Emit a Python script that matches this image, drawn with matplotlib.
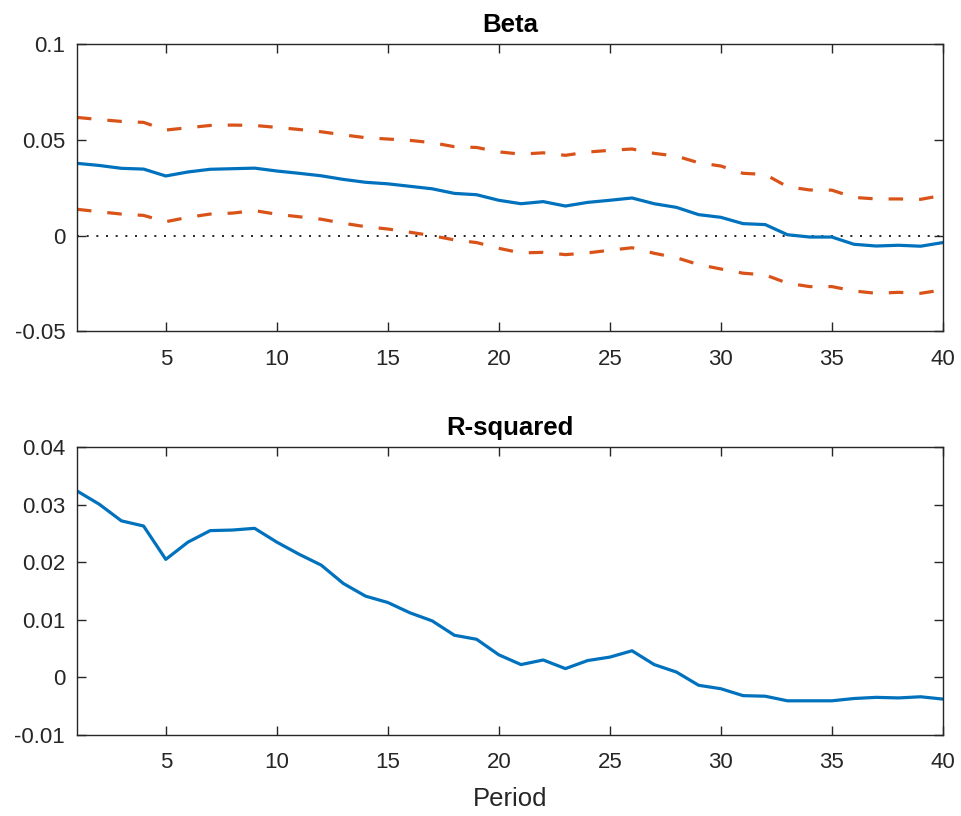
import numpy as np
import matplotlib
matplotlib.use("Agg")
import matplotlib.pyplot as plt
from matplotlib.ticker import FixedLocator, FuncFormatter

# Horizon (periods) and estimates
period = list(range(1, 41))

beta = [0.0378, 0.0367, 0.0352, 0.0348, 0.0312, 0.0333, 0.0347, 0.0350, 0.0353, 0.0338,
        0.0326, 0.0313, 0.0294, 0.0279, 0.0271, 0.0258, 0.0245, 0.0221, 0.0214, 0.0185,
        0.0167, 0.0178, 0.0155, 0.0174, 0.0185, 0.0197, 0.0167, 0.0148, 0.0110, 0.0096,
        0.0063, 0.0058, 0.0005, -0.0007, -0.0007, -0.0045, -0.0054, -0.0050, -0.0055, -0.0036]

beta_upper = [0.0618, 0.0607, 0.0597, 0.0592, 0.0552, 0.0564, 0.0576, 0.0578, 0.0576, 0.0566,
              0.0555, 0.0543, 0.0527, 0.0512, 0.0505, 0.0498, 0.0486, 0.0465, 0.0461, 0.0438,
              0.0426, 0.0433, 0.0420, 0.0437, 0.0446, 0.0453, 0.0430, 0.0416, 0.0381, 0.0364,
              0.0326, 0.0320, 0.0256, 0.0239, 0.0238, 0.0200, 0.0192, 0.0192, 0.0190, 0.0211]

beta_lower = [0.0138, 0.0125, 0.0113, 0.0106, 0.0073, 0.0096, 0.0113, 0.0118, 0.0131, 0.0112,
              0.0099, 0.0086, 0.0065, 0.0047, 0.0035, 0.0018, 0.0000, -0.0022, -0.0036, -0.0066,
              -0.0090, -0.0087, -0.0099, -0.0090, -0.0076, -0.0063, -0.0092, -0.0115, -0.0151, -0.0174,
              -0.0196, -0.0205, -0.0248, -0.0266, -0.0266, -0.0289, -0.0301, -0.0296, -0.0301, -0.0283]

rsq = [0.0324, 0.0301, 0.0272, 0.0263, 0.0205, 0.0235, 0.0255, 0.0256, 0.0259, 0.0235,
       0.0214, 0.0195, 0.0163, 0.0141, 0.0130, 0.0112, 0.0098, 0.0073, 0.0066, 0.0039,
       0.0022, 0.0030, 0.0015, 0.0029, 0.0035, 0.0046, 0.0022, 0.0009, -0.0014, -0.0020,
       -0.0032, -0.0033, -0.0041, -0.0041, -0.0041, -0.0037, -0.0035, -0.0036, -0.0034, -0.0038]

x_ticks = [5, 10, 15, 20, 25, 30, 35, 40]
beta_yticks = [-0.05, 0, 0.05, 0.1]
rsq_yticks = [-0.01, 0, 0.01, 0.02, 0.03, 0.04]

BLUE = "#0072BD"
ORANGE = "#D95319"
AXC = "#262626"

plt.rcParams["font.family"] = ["Liberation Sans", "DejaVu Sans"]
plt.rcParams["axes.unicode_minus"] = False

fig = plt.figure(figsize=(9.61, 8.16), dpi=100)
ax1 = fig.add_axes([0.0801, 0.5939, 0.901, 0.3518])
ax2 = fig.add_axes([0.0801, 0.0996, 0.901, 0.3523])

fmt = FuncFormatter(lambda v, p: "%g" % round(v, 6))


def style(ax, yticks, ylim):
    ax.set_xlim(1, 40)
    ax.set_ylim(*ylim)
    ax.xaxis.set_major_locator(FixedLocator(x_ticks))
    ax.yaxis.set_major_locator(FixedLocator(yticks))
    ax.yaxis.set_major_formatter(fmt)
    for s in ax.spines.values():
        s.set_color(AXC)
        s.set_linewidth(1.0)
    ax.tick_params(which="both", direction="in", length=6.5, width=1.0,
                   color=AXC, labelcolor=AXC, labelsize=16,
                   top=True, right=True)
    ax.tick_params(axis="x", pad=12.5)
    ax.tick_params(axis="y", pad=8.5)


dash = (0, (10 / 2.2, 11 / 2.2))

ax1.axhline(0, color="black", lw=1.2, ls=(0, (1.2, 4.6)), zorder=1)
ax1.plot(period, beta_upper, color=ORANGE, lw=2.3, ls=dash)
ax1.plot(period, beta_lower, color=ORANGE, lw=2.3, ls=dash)
ax1.plot(period, beta, color=BLUE, lw=2.3)
style(ax1, beta_yticks, (-0.05, 0.1))
ax1.set_title("Beta", fontsize=18.5, fontweight="bold", color="black", pad=9)

ax2.plot(period, rsq, color=BLUE, lw=2.3)
style(ax2, rsq_yticks, (-0.01, 0.04))
ax2.set_title("R-squared", fontsize=18.5, fontweight="bold", color="black", pad=9)
ax2.set_xlabel("Period", fontsize=18.5, color=AXC, labelpad=10)

fig.savefig("out.png", dpi=100)
